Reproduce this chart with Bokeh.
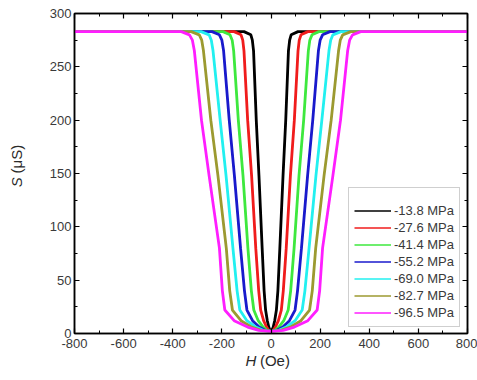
import numpy as np
from bokeh.plotting import figure
from bokeh.models import Range1d, LinearAxis, Legend, LegendItem, Label, FixedTicker
from bokeh.embed import file_html
from bokeh.resources import INLINE

# ---- data ----
pressures = ["-13.8 MPa", "-27.6 MPa", "-41.4 MPa", "-55.2 MPa",
             "-69.0 MPa", "-82.7 MPa", "-96.5 MPa"]
colors = ["#000000", "#f01c1c", "#3ee83e", "#1a1acc", "#22f0f0", "#9c9a30", "#ff1eff"]

# S levels (uS) and the half-width H (Oe) of each curve at that level
s_levels = [283, 280, 275, 265, 200, 148, 80, 40, 22, 12, 6, 3]
hw_13_8 = [110, 82, 76, 71, 60, 49, 36, 28, 22, 15, 9, 4]
hw_27_6 = [150, 122, 115, 110, 95, 79, 62, 50, 42, 30, 18, 9]
hw_41_4 = [195, 167, 158, 152, 133, 114, 94, 80, 70, 52, 32, 16]
hw_55_2 = [240, 210, 200, 193, 170, 149, 124, 108, 98, 75, 48, 24]
hw_69_0 = [285, 252, 243, 236, 207, 183, 155, 138, 127, 98, 62, 32]
hw_82_7 = [325, 292, 282, 275, 245, 216, 182, 168, 157, 122, 78, 40]
hw_96_5 = [365, 332, 320, 312, 283, 252, 210, 198, 188, 150, 95, 50]
half_widths = [hw_13_8, hw_27_6, hw_41_4, hw_55_2, hw_69_0, hw_82_7, hw_96_5]
s_plateau = 283
s_min = 2
h_edges = [-800, 800]

x_ticks = list(range(-800, 801, 200))
x_minor = list(range(-700, 800, 200))
y_ticks = list(range(0, 301, 50))
y_minor = list(range(25, 300, 50))

FONT = "Liberation Sans"

p = figure(width=477, height=380, output_backend="svg", toolbar_location=None,
           x_range=Range1d(-800, 800), y_range=Range1d(0, 300),
           min_border_left=74, min_border_right=10, min_border_top=13,
           min_border_bottom=47)
p.grid.visible = False
p.outline_line_color = "black"
p.outline_line_width = 1.5

legend_renderers = []
for hw, col in zip(half_widths, colors):
    xs = [h_edges[0]] + [-w for w in hw] + [0] + [w for w in reversed(hw)] + [h_edges[1]]
    ys = [s_plateau] + s_levels + [s_min] + list(reversed(s_levels)) + [s_plateau]
    # thin copy (hidden under the thick one) used for the legend swatch
    legend_renderers.append(p.line(xs, ys, line_color=col, line_width=1.3))
    p.line(xs, ys, line_color=col, line_width=2.8)

def style_axis(ax, labels=True):
    ax.major_tick_in = 5
    ax.major_tick_out = 0
    ax.minor_tick_in = 3
    ax.minor_tick_out = 0
    ax.axis_line_width = 1.5
    ax.major_tick_line_width = 1.2
    ax.major_label_text_font = FONT
    ax.major_label_text_font_size = "13px"
    ax.major_label_text_color = "#3a3a3a"
    if not labels:
        ax.major_label_text_font_size = "0px"
        ax.major_label_text_alpha = 0

p.xaxis.ticker = FixedTicker(ticks=x_ticks, minor_ticks=x_minor)
p.yaxis.ticker = FixedTicker(ticks=y_ticks, minor_ticks=y_minor)
style_axis(p.xaxis[0])
style_axis(p.yaxis[0])
p.xaxis.major_label_standoff = 5
p.yaxis.major_label_standoff = 3
p.xaxis.major_label_overrides = {t: str(t) for t in x_ticks}
p.yaxis.major_label_overrides = {t: str(t) for t in y_ticks}

top = LinearAxis(ticker=FixedTicker(ticks=x_ticks, minor_ticks=x_minor))
style_axis(top, labels=False)
top.major_label_standoff = 0
right = LinearAxis(ticker=FixedTicker(ticks=y_ticks, minor_ticks=y_minor))
style_axis(right, labels=False)
right.major_label_standoff = 0
p.add_layout(top, "above")
p.add_layout(right, "right")

# axis titles with italic symbols (placed in side panels, so they are not clipped;
# positions are in data units, so the panel they sit in does not matter)
lab_kw = dict(text_font=FONT, text_font_size="15px", text_color="#2a2a2a",
              text_baseline="middle", text_align="left")
p.add_layout(Label(x=-104, y=-25.5, text="H", text_font_style="italic", **lab_kw), "left")
p.add_layout(Label(x=-45, y=-25.5, text="(Oe)", **lab_kw), "below")
p.add_layout(Label(x=-1036, y=137, text="S", text_font_style="italic",
                   angle=np.pi / 2, **lab_kw), "left")
p.add_layout(Label(x=-1036, y=150, text="(\u03bcS)", angle=np.pi / 2, **lab_kw), "left")

legend = Legend(items=[LegendItem(label=lbl, renderers=[r])
                       for lbl, r in zip(pressures, legend_renderers)],
                location=(274, 6), title=" ", title_text_font_size="8px",
                title_standoff=0, padding=5, spacing=0, margin=0,
                glyph_width=37, glyph_height=17, label_height=17,
                label_text_font=FONT, label_text_font_size="13px",
                label_text_color="#3a3a3a", label_standoff=3,
                border_line_color="#a0a0a0", border_line_width=1)
p.add_layout(legend)

open("out.html", "w").write(file_html(p, INLINE))
